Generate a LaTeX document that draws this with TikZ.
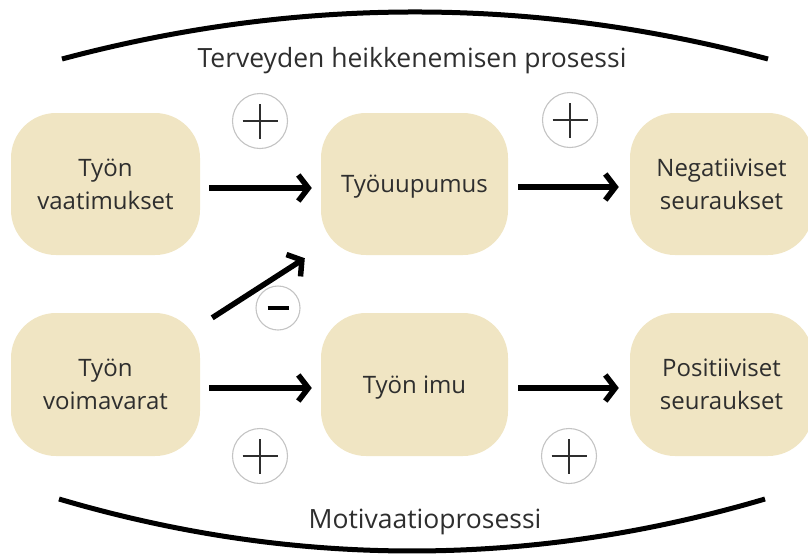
\documentclass[tikz,border=0pt]{standalone}
\usepackage{fontspec}
\setmainfont{Open Sans}
\usetikzlibrary{arrows.meta}
\definecolor{boxfill}{HTML}{F0E5C3}
\definecolor{txt}{HTML}{2E2E2E}
\definecolor{ring}{HTML}{C4C4C4}
\tikzset{
  box/.style={fill=boxfill, rounded corners=45pt, inner sep=0pt, align=center,
    text=txt, font=\fontsize{24}{33}\selectfont},
  oneline/.style={text depth=0pt},
  arr/.style={line width=5.5pt, -{Straight Barb[length=10pt,width=26pt]}},
  arcline/.style={line width=5pt},
  lbl/.style={text=txt, font=\fontsize{26.5}{30}\selectfont, anchor=base},
  plussign/.style={circle, draw=ring, fill=white, line width=1.1pt, minimum size=55pt, inner sep=0pt,
    path picture={
      \draw[txt, line width=1.6pt] ([xshift=-17.5pt]path picture bounding box.center) -- ([xshift=17.5pt]path picture bounding box.center);
      \draw[txt, line width=1.6pt] ([yshift=-17.5pt]path picture bounding box.center) -- ([yshift=17.5pt]path picture bounding box.center);}},
  minussign/.style={circle, draw=ring, fill=white, line width=1.1pt, minimum size=44pt, inner sep=0pt,
    path picture={
      \draw[black, line width=3.5pt] ([xshift=-10.5pt]path picture bounding box.center) -- ([xshift=10.5pt]path picture bounding box.center);}}
}
\begin{document}
\begin{tikzpicture}[x=1pt, y=-1pt]
\useasboundingbox (0,0) rectangle (808,558);
% arcs
\draw[arcline] (62,59) .. controls (297,-3.7) and (533,-3.7) .. (768,59);
\draw[arcline] (59,499) .. controls (294,568.3) and (530,568.3) .. (765,499);
\node[lbl] (top) at (412,67) {Terveyden heikkenemisen prosessi};
\node[lbl] (bot) at (425,528) {Motivaatioprosessi};
% boxes
\node[box, minimum width=189pt, minimum height=142pt] (tv) at (105.5,184) {Työn\\vaatimukset};
\node[box, oneline, minimum width=187pt, minimum height=142pt] (tu) at (414.5,184) {Työuupumus};
\node[box, minimum width=183pt, minimum height=142pt] (ns) at (721.5,184) {Negatiiviset\\seuraukset};
\node[box, minimum width=189pt, minimum height=143pt] (tr) at (105.5,384.5) {Työn\\voimavarat};
\node[box, oneline, minimum width=187pt, minimum height=143pt] (ti) at (414.5,384.5) {Työn imu};
\node[box, minimum width=183pt, minimum height=143pt] (ps) at (721.5,384.5) {Positiiviset\\seuraukset};
% arrows
\draw[arr] ([shift={(9pt,-4pt)}]tv.east) -- ([shift={(-9pt,-4pt)}]tu.west);
\draw[arr] ([shift={(10pt,-3pt)}]tu.east) -- ([shift={(-11pt,-3pt)}]ns.west);
\draw[arr] ([shift={(9pt,-3.5pt)}]tr.east) -- ([shift={(-9pt,-3.5pt)}]ti.west);
\draw[arr] ([shift={(10pt,-3.5pt)}]ti.east) -- ([shift={(-11pt,-3.5pt)}]ps.west);
\draw[arr] ([shift={(12pt,-5pt)}]tr.north east) -- ([shift={(-16pt,-3pt)}]tu.south west);
% signs
\node[plussign] (p1) at (260,121) {};
\node[plussign] (p2) at (570,120) {};
\node[plussign] (p3) at (260,456) {};
\node[plussign] (p4) at (569,456) {};
\node[minussign] (m1) at (278,308) {};
\end{tikzpicture}
\end{document}
